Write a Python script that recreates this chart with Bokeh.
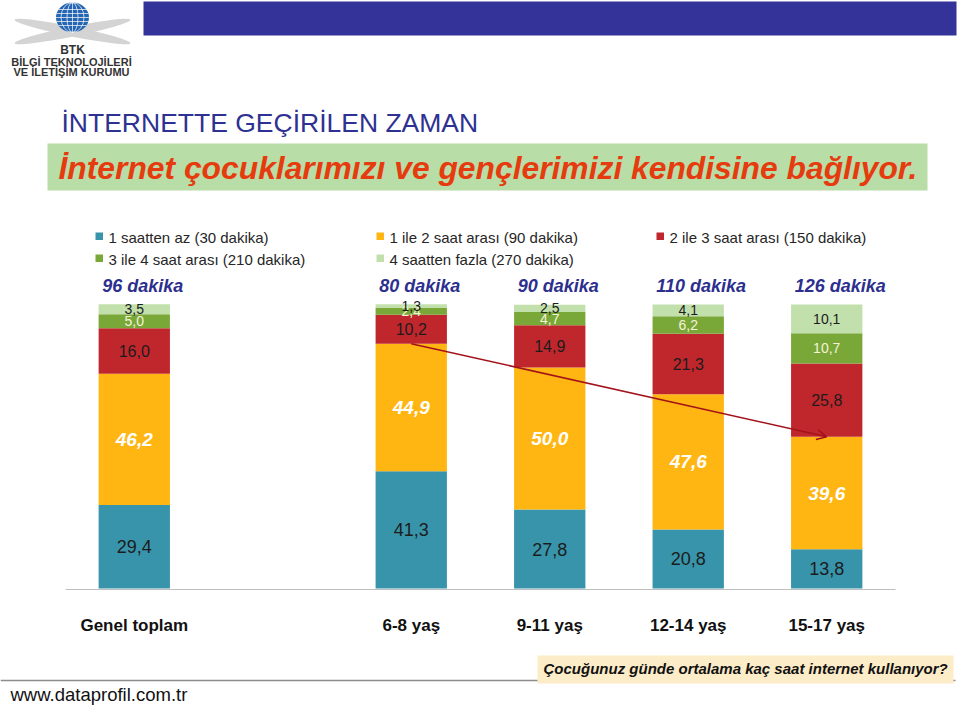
import math
from bokeh.plotting import figure
from bokeh.models import FactorRange, Range1d, ColumnDataSource, Arrow, OpenHead
from bokeh.core.properties import value
from bokeh.embed import file_html
from bokeh.resources import INLINE

# ---------------- data ----------------
categories = ["Genel toplam", "6-8 yaş", "9-11 yaş", "12-14 yaş", "15-17 yaş"]
avg_minutes = [96, 80, 90, 110, 126]
series_names = [
    "1 saatten az (30 dakika)",
    "1 ile 2 saat arası (90 dakika)",
    "2 ile 3 saat arası (150 dakika)",
    "3 ile 4 saat arası (210 dakika)",
    "4 saatten fazla (270 dakika)",
]
less_1h = [29.4, 41.3, 27.8, 20.8, 13.8]
h1_2 = [46.2, 44.9, 50.0, 47.6, 39.6]
h2_3 = [16.0, 10.2, 14.9, 21.3, 25.8]
h3_4 = [5.0, 2.4, 4.7, 6.2, 10.7]
more_4h = [3.5, 1.3, 2.5, 4.1, 10.1]

series_values = [less_1h, h1_2, h2_3, h3_4, more_4h]
keys = ["s0", "s1", "s2", "s3", "s4"]
colors = ["#3894AA", "#FFB612", "#C0272D", "#7AA838", "#C2E0AC"]

FONT = "Liberation Sans"

# ---------------- figure ----------------
W, H = 960, 708
factors = [categories[0], " "] + categories[1:]
PAD = 0.466                      # padding on each side (factor units)
SPAN = len(factors) + 2 * PAD
p = figure(
    width=W, height=H,
    x_range=FactorRange(*factors, range_padding=PAD, range_padding_units="absolute"),
    y_range=Range1d(-(H - 588) / 2.84, 588 / 2.84),
    x_axis_type=None, y_axis_type=None,
    min_border=0, outline_line_color=None,
    toolbar_location=None, output_backend="svg",
    background_fill_color="white", border_fill_color="white",
)
# page-pixel vertical range for decorations (linear, top-down)
p.extra_y_ranges = {"px": Range1d(H, 0)}


def sx(px):
    """page x pixel -> synthetic categorical coordinate"""
    return px * SPAN / W - PAD


def sw(w):
    return w * SPAN / W


YPX = dict(y_range_name="px")


def txt(x, y, s, size, color="#000000", style="normal", align="left"):
    p.text(x=[sx(x)], y=[y], text=[s], text_font=value(FONT), text_font_size=value(size),
           text_font_style=style, text_color=color, text_align=align,
           text_baseline="middle", **YPX)


def box(l, r, t, b, color):
    p.quad(left=[sx(l)], right=[sx(r)], top=[t], bottom=[b], fill_color=color, line_color=None, **YPX)


def hline(x0, x1, y, color, w=1.0, alpha=1.0):
    p.segment(x0=[sx(x0)], x1=[sx(x1)], y0=[y], y1=[y], line_color=color, line_width=w,
              line_alpha=alpha, **YPX)


# ---------------- header decorations ----------------
box(143, 956, 1, 35, "#333399")

# logo
p.ellipse(x=[sx(72), sx(72)], y=[31, 31], width=[sw(118), sw(118)], height=[10, 10],
          angle=[0.2, -0.2], fill_color="#D4D4D4", line_color=None, **YPX)
p.ellipse(x=[sx(72)], y=[17], width=[sw(33)], height=[30], fill_color="#2566B2", line_color=None, **YPX)
for yy in [9, 13, 17, 21, 25]:
    hw = 16.5 * math.sqrt(max(0.0, 1 - ((yy - 17) / 15.0) ** 2))
    hline(72 - hw, 72 + hw, yy, "white", 1, 0.7)
p.ellipse(x=[sx(72), sx(72)], y=[17, 17], width=[sw(11), sw(23)], height=[30, 30], fill_color=None,
          line_color="white", line_alpha=0.7, line_width=1, **YPX)
p.segment(x0=[sx(72)], x1=[sx(72)], y0=[2], y1=[32], line_color="white", line_alpha=0.7, **YPX)
txt(72, 49, "BTK", "12px", "#333333", "bold", "center")
txt(71, 61, "BİLGİ TEKNOLOJİLERİ", "11px", "#333333", "bold", "center")
txt(71, 71, "VE İLETİŞİM KURUMU", "11px", "#333333", "bold", "center")

# titles
txt(61, 122, "İNTERNETTE GEÇİRİLEN ZAMAN", "26.5px", "#2E3192", "normal")
box(47, 927, 143, 190, "#B8DDA6")
txt(58, 167, "İnternet çocuklarımızı ve gençlerimizi kendisine bağlıyor.", "31.8px", "#E63B0E",
    "bold italic")

# legend (manual, 3 columns x 2 rows)
leg_pos = [(95, 232, 237), (376, 232, 237), (656, 232, 237), (95, 254, 259), (376, 254, 259)]
for (lx, sq_top, mid), name, col in zip(leg_pos, series_names, colors):
    box(lx, lx + 7.5, sq_top, sq_top + 7.5, col)
    txt(lx + 13, mid, name, "15px", "#262626")

# ---------------- bars ----------------
src = ColumnDataSource(dict(cat=categories, **{k: v for k, v in zip(keys, series_values)}))
hline(65, 895, 589, "#BFBFBF", 1)
p.vbar_stack(keys, x="cat", width=0.515, fill_color=colors, line_color=None, source=src)

label_styles = [
    ("#1C1C1C", "18px", "normal"),
    ("#FFFFFF", "19px", "bold italic"),
    ("#1C1C1C", "16px", "normal"),
    ("#F4F4D9", "14px", "normal"),
    ("#1C1C1C", "14px", "normal"),
]
bottom = [0.0] * len(categories)
for vals, (tc, ts, tst) in zip(series_values, label_styles):
    mids = [b + v / 2.0 for b, v in zip(bottom, vals)]
    labels = [f"{v:.1f}".replace(".", ",") for v in vals]
    p.text(x=categories, y=mids, text=labels, text_font=value(FONT), text_font_size=value(ts),
           text_font_style=tst, text_color=tc, text_align="center", text_baseline="middle")
    bottom = [b + v for b, v in zip(bottom, vals)]

# average minutes above bars
p.text(x=categories, y=[285] * len(categories), text=[f"{m} dakika" for m in avg_minutes],
       y_range_name="px", x_offset=-32, text_font=value(FONT), text_font_size=value("18px"),
       text_font_style="bold italic", text_color="#2C2F8E", text_align="left",
       text_baseline="middle")

# category labels
p.text(x=categories, y=[625] * len(categories), text=categories, y_range_name="px",
       text_font=value(FONT), text_font_size=value("17px"), text_font_style="bold",
       text_color="#111111", text_align="center", text_baseline="middle")

# trend arrow: top of "1 ile 2 saat" segment, 6-8 yaş -> 15-17 yaş
i0, i1 = 1, 4
arrow = Arrow(
    end=OpenHead(size=10, line_color="#A3121B", line_width=1.5),
    x_start=factors.index(categories[i0]) + 0.5, y_start=less_1h[i0] + h1_2[i0],
    x_end=factors.index(categories[i1]) + 0.5, y_end=less_1h[i1] + h1_2[i1],
    line_color="#A3121B", line_width=1.5,
)
p.add_layout(arrow)

# ---------------- footer ----------------
hline(0, 955, 680, "#8C8C8C", 1.5)
box(537, 953, 655, 683, "#FDECC8")
txt(543, 668, "Çocuğunuz günde ortalama kaç saat internet kullanıyor?", "15px", "#111111",
    "bold italic")
txt(10, 694, "www.dataprofil.com.tr", "18.5px", "#111111")

open("out.html", "w").write(file_html(p, INLINE))
